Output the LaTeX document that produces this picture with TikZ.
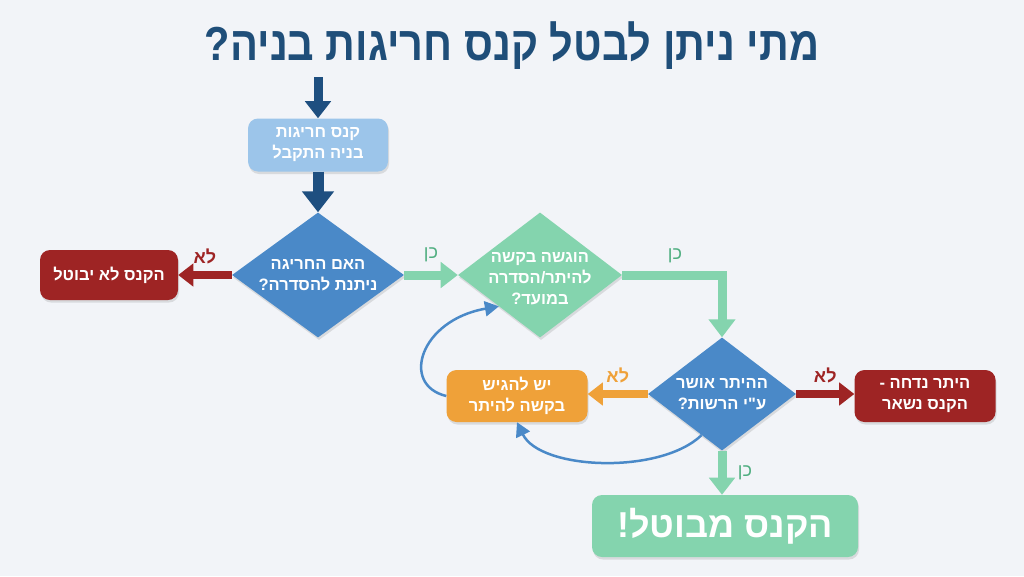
\documentclass[tikz,border=0pt]{standalone}
\usepackage{fontspec}
\usepackage{graphicx}
\setmainfont{Liberation Sans}
\newfontfamily\heb[Script=Hebrew]{Liberation Sans}
\TeXXeTstate=1
\usetikzlibrary{shapes.geometric,arrows.meta,shadows,calc}
\definecolor{bgc}{HTML}{F2F4F8}
\definecolor{titleblue}{HTML}{1F4E79}
\definecolor{arrblue}{HTML}{1E4F80}
\definecolor{lightblue}{HTML}{9CC5EA}
\definecolor{diamblue}{HTML}{4A89C8}
\definecolor{darkred}{HTML}{9E2424}
\definecolor{mint}{HTML}{84D4AE}
\definecolor{mintlabel}{HTML}{4FAE80}
\definecolor{orangec}{HTML}{EFA139}
\tikzset{
  shad/.style={drop shadow={opacity=0.22,shadow xshift=1pt,shadow yshift=-2.5pt}},
  boxc/.style={shape=rectangle,rounded corners=10pt,minimum width=140pt,minimum height=53pt,
     align=center,text=white,font=\heb\bfseries\fontsize{16.5}{21}\selectfont,shad,inner sep=2pt},
  diam/.style={shape=diamond,minimum width=#1,minimum height=125pt,inner sep=0pt,shad},
  dtext/.style={text=white,align=center,font=\heb\bfseries\fontsize{16.5}{21}\selectfont},
  fat/.style={line width=#1,-{Triangle[width=2.8*#1,length=1.9*#1]}},
  thin/.style={line width=2.5pt,draw=diamblue,-{Triangle[width=15pt,length=14pt]}},
  lab/.style={font=\heb\bfseries\fontsize{18}{20}\selectfont},
  labg/.style={font=\heb\fontsize{18}{20}\selectfont,text=mintlabel},
}
\begin{document}
\begin{tikzpicture}[x=1pt,y=-1pt]
\fill[bgc] (0,0) rectangle (1024,576);
\useasboundingbox (0,0) rectangle (1024,576);
\node[text=titleblue,font=\heb\bfseries\fontsize{41.5}{44}\selectfont] (title) at (512,46) {\scalebox{1}[1.15]{\beginR מתי ניתן לבטל קנס חריגות בניה?\endR}};
\coordinate (ts) at (318,77);
\node[boxc,fill=lightblue] (b1) at (318,145) {\beginR קנס חריגות\endR\\\beginR בניה התקבל\endR};
\node[diam=172pt,fill=diamblue,label={[dtext]center:{\beginR האם החריגה\endR\\\beginR ניתנת להסדרה?\endR}}] (d1) at (318,275) {};
\node[boxc,fill=darkred,minimum width=138pt,minimum height=50pt] (r1) at (109,275) {\beginR הקנס לא יבוטל\endR};
\node[diam=164pt,fill=mint,label={[dtext,yshift=-4pt]center:{\beginR הוגשה בקשה\endR\\\beginR להיתר/הסדרה\endR\\\beginR במועד?\endR}}] (d2) at (540,275) {};
\node[diam=148pt,minimum height=113pt,fill=diamblue,label={[dtext]center:{\beginR ההיתר אושר\endR\\\beginR ע"י הרשות?\endR}}] (d3) at (722,394) {};
\node[boxc,fill=darkred,minimum width=141pt,minimum height=52pt] (r2) at (925,396) {\beginR היתר נדחה -\endR\\\beginR הקנס נשאר\endR};
\node[boxc,fill=orangec,minimum width=141pt,minimum height=52pt] (ob) at (517,396) {\beginR יש להגיש\endR\\\beginR בקשה להיתר\endR};
\node[boxc,fill=mint,minimum width=266pt,minimum height=62pt,font=\heb\bfseries\fontsize{36}{40}\selectfont] (fin) at (725,526) {\beginR הקנס מבוטל!\endR};
% arrows
\draw[fat=9pt,arrblue] (ts) -- (b1.north);
\draw[fat=11pt,arrblue] (b1.south) -- (d1.north);
\draw[fat=8pt,darkred] (d1.west) -- (r1.east) node[midway,above=4pt,lab,text=darkred] {\beginR לא\endR};
\draw[fat=9pt,mint] (d1.east) -- (d2.west) node[midway,above=5pt,labg] {\beginR כן\endR};
\draw[line width=9pt,mint,-{Triangle[width=26pt,length=18pt]}] (d2.east) -| (d3.north);
\node[labg] (l2) at (675,256) {\beginR כן\endR};
\draw[fat=8pt,darkred] (d3.east) -- (d3.east -| r2.west) node[midway,above=4pt,lab,text=darkred] {\beginR לא\endR};
\draw[fat=8pt,orangec] (d3.west) -- (d3.west -| ob.east) node[midway,above=4pt,lab,text=orangec] {\beginR לא\endR};
\draw[fat=9pt,mint] (d3.south) -- (d3.south |- fin.north) node[midway,right=8pt,labg] {\beginR כן\endR};
\draw[thin] (ob.west) .. controls (400,385) and (420,320) .. (d2.south west);
\draw[thin] ($(d3.south west)!0.45!(d3.south)$) .. controls (660,475) and (540,470) .. (ob.south);
\end{tikzpicture}
\end{document}
